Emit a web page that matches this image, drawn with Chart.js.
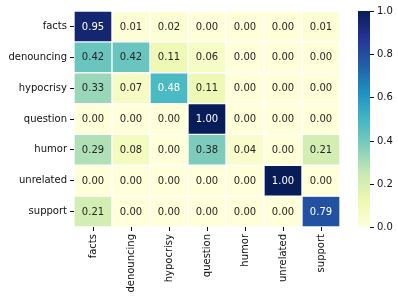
<!DOCTYPE html>
<html>
<head>
<meta charset="utf-8">
<script src="https://cdn.jsdelivr.net/npm/chart.js@4"></script>
<style>
  body { margin: 0; background: #fff; }
  canvas { display: block; }
</style>
</head>
<body>
<canvas id="heatmap" width="398" height="301"></canvas>
<script>
const rowLabels = ['facts', 'denouncing', 'hypocrisy', 'question', 'humor', 'unrelated', 'support'];
const colLabels = ['facts', 'denouncing', 'hypocrisy', 'question', 'humor', 'unrelated', 'support'];

const factsRow = [0.95, 0.01, 0.02, 0.00, 0.00, 0.00, 0.01];
const denouncingRow = [0.42, 0.42, 0.11, 0.06, 0.00, 0.00, 0.00];
const hypocrisyRow = [0.33, 0.07, 0.48, 0.11, 0.00, 0.00, 0.00];
const questionRow = [0.00, 0.00, 0.00, 1.00, 0.00, 0.00, 0.00];
const humorRow = [0.29, 0.08, 0.00, 0.38, 0.04, 0.00, 0.21];
const unrelatedRow = [0.00, 0.00, 0.00, 0.00, 0.00, 1.00, 0.00];
const supportRow = [0.21, 0.00, 0.00, 0.00, 0.00, 0.00, 0.79];

const matrix = [factsRow, denouncingRow, hypocrisyRow, questionRow, humorRow, unrelatedRow, supportRow];
const colorbarTicks = [0.0, 0.2, 0.4, 0.6, 0.8, 1.0];

// YlGnBu, the 9 colorbrewer anchors
const ylgnbu = [
    [255, 255, 217], [237, 248, 177], [199, 233, 180], [127, 205, 187], [65, 182, 196],
    [29, 145, 192], [34, 94, 168], [37, 52, 148], [8, 29, 88]
];

const cmap = (v) => {
    v = Math.max(0, Math.min(1, v));
    const pos = v * (ylgnbu.length - 1);
    const i = Math.min(Math.floor(pos), ylgnbu.length - 2);
    const t = pos - i;
    const a = ylgnbu[i];
    const b = ylgnbu[i + 1];
    return [0, 1, 2].map((k) => a[k] + (b[k] - a[k]) * t);
};

const rgbStr = (c) => 'rgb(' + c.map((x) => Math.round(x)).join(',') + ')';

// same rule seaborn uses to pick annotation colour
const textColorFor = (c) => {
    const lin = c.map((x) => {
        x = x / 255;
        return x <= 0.03928 ? x / 12.92 : Math.pow((x + 0.055) / 1.055, 2.4);
    });
    const lum = 0.2126 * lin[0] + 0.7152 * lin[1] + 0.0722 * lin[2];
    return lum > 0.408 ? '#262626' : '#ffffff';
};

const font = "'DejaVu Sans', sans-serif";
const axisColor = '#111111';

const datasets = matrix.map((row, r) => {
    return {
        label: rowLabels[r],
        data: row.map(() => 1),
        values: row,
        backgroundColor: row.map((v) => rgbStr(cmap(v))),
        borderColor: '#ffffff',
        borderWidth: 1,
        borderSkipped: false,
        barPercentage: 1,
        categoryPercentage: 1
    };
});

const annotate = {
    id: 'annotate',
    afterDatasetsDraw(chart) {
        const ctx = chart.ctx;
        ctx.save();
        ctx.font = '10px ' + font;
        ctx.textAlign = 'center';
        ctx.textBaseline = 'middle';
        chart.data.datasets.forEach((ds, d) => {
            const meta = chart.getDatasetMeta(d);
            meta.data.forEach((bar, i) => {
                const v = ds.values[i];
                const c = bar.getCenterPoint();
                ctx.fillStyle = textColorFor(cmap(v));
                ctx.fillText(v.toFixed(2), c.x, c.y + 0.5);
            });
        });
        ctx.restore();
    }
};

const colorbar = {
    id: 'colorbar',
    afterDraw(chart) {
        const ctx = chart.ctx;
        const top = chart.chartArea.top;
        const bottom = chart.chartArea.bottom;
        const x0 = 358;
        const x1 = 370;
        const grad = ctx.createLinearGradient(0, bottom, 0, top);
        for (let i = 0; i <= 40; i++) {
            grad.addColorStop(i / 40, rgbStr(cmap(i / 40)));
        }
        ctx.save();
        ctx.fillStyle = grad;
        ctx.fillRect(x0, top, x1 - x0, bottom - top);
        ctx.strokeStyle = axisColor;
        ctx.lineWidth = 1;
        ctx.fillStyle = axisColor;
        ctx.font = '10px ' + font;
        ctx.textAlign = 'left';
        ctx.textBaseline = 'middle';
        colorbarTicks.forEach((t) => {
            const y = Math.round(bottom - t * (bottom - top)) + 0.5;
            ctx.beginPath();
            ctx.moveTo(x1, y);
            ctx.lineTo(x1 + 4, y);
            ctx.stroke();
            ctx.fillText(t.toFixed(1), x1 + 7, y);
        });
        ctx.restore();
    }
};

new Chart(document.getElementById('heatmap'), {
    type: 'bar',
    data: {
        labels: colLabels,
        datasets: datasets
    },
    plugins: [annotate, colorbar],
    options: {
        responsive: false,
        animation: false,
        layout: {
            padding: { top: 11, right: 58, left: 0, bottom: 0 }
        },
        plugins: {
            legend: { display: false },
            tooltip: { enabled: false }
        },
        scales: {
            x: {
                stacked: true,
                border: { display: false },
                grid: {
                    offset: false,
                    drawOnChartArea: false,
                    drawTicks: true,
                    tickLength: 4,
                    color: axisColor
                },
                ticks: {
                    color: axisColor,
                    font: { family: font, size: 10 },
                    minRotation: 90,
                    maxRotation: 90,
                    padding: 3,
                    autoSkip: false
                },
                afterFit: (scale) => { scale.height = 74; }
            },
            y: {
                stacked: true,
                reverse: true,
                min: 0,
                max: rowLabels.length,
                border: { display: false },
                grid: {
                    drawOnChartArea: false,
                    drawTicks: true,
                    tickLength: 4,
                    color: axisColor
                },
                afterBuildTicks: (scale) => {
                    scale.ticks = rowLabels.map((_, i) => ({ value: i + 0.5 }));
                },
                ticks: {
                    color: axisColor,
                    font: { family: font, size: 10 },
                    padding: 3,
                    autoSkip: false,
                    callback: (value) => rowLabels[Math.floor(value)]
                },
                afterFit: (scale) => { scale.width = 74; }
            }
        }
    }
});
</script>
</body>
</html>
